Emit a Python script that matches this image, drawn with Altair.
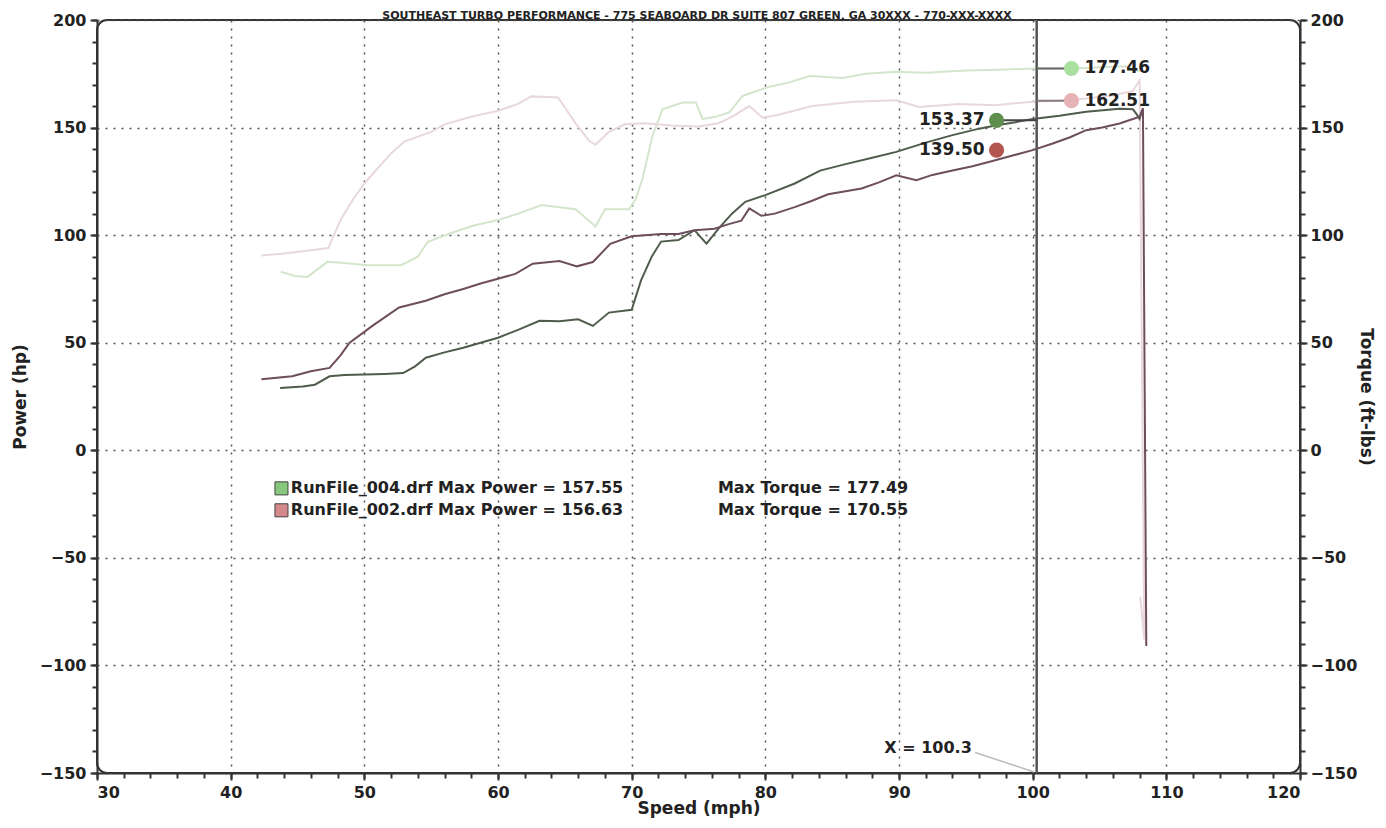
import altair as alt
import pandas as pd

FONT = "DejaVu Sans"

# ---------------- data ----------------
# Run 002 (red) power, hp
p002_x = [42.3, 44.6, 46.0, 47.4, 48.2, 48.9, 50.6, 52.6, 54.6, 56.0, 57.4, 58.7, 60.0, 61.3, 62.6,
          64.6, 65.9, 67.1, 68.4, 70.0, 72.2, 73.5, 74.7, 76.2, 77.2, 78.2, 78.8, 79.7, 80.7, 82.2,
          83.5, 84.7, 87.2, 88.5, 89.8, 91.3, 92.5, 94.0, 95.5, 97.2, 98.5, 100.0, 101.5, 102.8,
          104.0, 105.2, 106.5, 107.5, 108.0, 108.25, 108.5]
p002_y = [33.0, 34.4, 36.7, 38.3, 44.0, 50.0, 57.8, 66.4, 69.5, 72.5, 75.0, 77.5, 79.7, 82.0, 86.7,
          88.0, 85.5, 87.5, 96.0, 99.5, 100.5, 100.5, 102.3, 103.0, 105.0, 106.7, 112.4, 109.0, 110.0, 113.0,
          116.0, 119.0, 121.7, 124.5, 127.8, 125.5, 128.0, 130.0, 132.0, 134.8, 137.0, 139.5, 142.6, 145.5,
          148.8, 150.0, 151.9, 154.0, 155.0, 159.0, -91.0]

# Run 004 (green) power, hp
p004_x = [43.7, 45.4, 46.3, 47.4, 48.5, 50.0, 51.5, 52.9, 53.8, 54.6, 56.0, 57.4, 58.7, 60.0, 61.5,
          63.1, 64.6, 66.0, 67.1, 68.3, 70.0, 70.7, 71.5, 72.2, 73.5, 74.7, 75.6, 76.5, 77.5, 78.5,
          80.0, 82.2, 84.1, 86.0, 88.0, 89.8, 92.0, 94.0, 96.0, 97.2, 98.7, 100.0, 102.0, 104.0,
          106.5, 107.5, 107.8, 108.0, 108.2]
p004_y = [29.0, 29.7, 30.5, 34.4, 35.0, 35.2, 35.5, 35.9, 39.0, 43.0, 45.5, 47.7, 50.0, 52.3, 56.0,
          60.2, 60.0, 60.9, 57.8, 64.0, 65.3, 79.0, 90.0, 97.0, 97.7, 102.3, 96.0, 103.0, 110.0, 115.5,
          118.6, 124.0, 130.0, 133.0, 136.0, 138.7, 143.0, 146.5, 149.5, 151.0, 152.5, 154.0, 155.5, 157.3,
          158.8, 158.5, 156.0, 154.0, 158.0]

# Run 002 (red) torque, ft-lbs
t002_x = [42.3, 44.0, 46.0, 47.3, 48.3, 49.2, 50.0, 50.7, 52.0, 53.0, 55.0, 56.0, 58.0, 60.0, 61.5,
          62.5, 64.5, 65.8, 66.8, 67.3, 68.3, 69.5, 71.0, 73.0, 75.0, 76.5, 77.5, 78.8, 79.8, 81.0,
          83.5, 84.1, 86.6, 89.8, 91.5, 94.5, 97.2, 100.0, 102.0, 104.0, 106.0, 107.5, 108.0,
          108.35, 108.05]
t002_y = [90.5, 91.5, 93.0, 94.0, 108.0, 117.0, 124.0, 129.0, 138.0, 143.5, 148.0, 151.5, 155.0, 157.8, 161.0,
          164.5, 164.0, 152.0, 144.0, 142.0, 148.0, 151.5, 152.0, 151.0, 150.5, 152.0, 155.0, 160.0, 154.6, 156.0,
          160.0, 160.4, 162.0, 162.7, 159.6, 161.0, 160.4, 162.0, 162.5, 163.5, 165.0, 167.0, 172.0,
          -88.0, -68.0]

# Run 004 (green) torque, ft-lbs
t004_x = [43.75, 44.8, 45.75, 47.25, 48.5, 50.25, 52.75, 54.0, 54.75, 56.5, 58.25, 60.0, 61.5, 63.25,
          65.8, 67.3, 68.0, 69.8, 70.3, 70.8, 71.55, 72.3, 73.8, 74.8, 75.3, 76.3, 77.3, 78.3, 80.3,
          81.8, 83.3, 85.8, 87.5, 89.8, 92.0, 95.0, 98.0, 100.3, 103.0, 105.0, 107.0, 108.0]
t004_y = [83.0, 81.0, 80.6, 87.6, 87.0, 86.0, 86.0, 90.0, 96.9, 101.0, 104.6, 107.0, 110.0, 114.0,
          112.0, 104.0, 112.0, 112.0, 116.7, 126.0, 146.0, 158.5, 161.6, 161.6, 154.0, 155.0, 157.0, 164.7, 169.0,
          171.0, 174.0, 173.0, 175.0, 176.0, 175.5, 176.5, 177.0, 177.5, 177.5, 178.0, 178.5, 176.0]

series_names = ["T004", "T002", "P004", "P002"]
series_colors = ["#d3e6cb", "#e8d7df", "#4f5c4c", "#6e4d5c"]

# axis ticks
x_major = [30, 40, 50, 60, 70, 80, 90, 100, 110, 120]
x_minor = list(range(30, 121, 2))
y_major = [200, 150, 100, 50, 0, -50, -100, -150]
y_minor = list(range(-150, 201, 10))

cursor_x = 100.3
cursor_label = "X = 100.3"

# cursor readouts
mk_left_x = [97.3, 97.3]
mk_left_y = [153.37, 139.50]
mk_left_txt = ["153.37", "139.50"]
mk_left_col = ["#5f8f4e", "#b4554f"]
mk_right_x = [102.9, 102.9]
mk_right_y = [177.46, 162.51]
mk_right_txt = ["177.46", "162.51"]
mk_right_col = ["#a9df9f", "#e7b2b6"]

legend_y = [-17.7, -27.9]
legend_names = ["RunFile_004.drf Max Power = 157.55", "RunFile_002.drf Max Power = 156.63"]
legend_torque = ["Max Torque = 177.49", "Max Torque = 170.55"]
legend_cols = ["#86c97c", "#d48a8a"]

title_text = "SOUTHEAST TURBO PERFORMANCE - 775 SEABOARD DR SUITE 807 GREEN, GA 30XXX - 770-XXX-XXXX"

# ---------------- build ----------------
def series(name, xs, ys):
    return pd.DataFrame({"series": name, "i": list(range(len(xs))), "x": xs, "y": ys})

lines_df = pd.concat([
    series("T004", t004_x, t004_y),
    series("T002", t002_x, t002_y),
    series("P004", p004_x, p004_y),
    series("P002", p002_x, p002_y),
], ignore_index=True)

xs = alt.Scale(domain=[30, 120], nice=False, zero=False)
ys = alt.Scale(domain=[-150, 200], nice=False, zero=False)


def X(f="x"):
    return alt.X(f, type="quantitative", scale=xs, axis=None)


def Y(f="y"):
    return alt.Y(f, type="quantitative", scale=ys, axis=None)


axis_df = pd.DataFrame({"x": [30.0], "y": [0.0]})
carrier = alt.Chart(axis_df).mark_point(opacity=0)

lab = dict(labelFont=FONT, labelFontSize=16, labelFontWeight="bold", labelColor="#222")
ttl = dict(titleFont=FONT, titleFontSize=17, titleFontWeight="bold", titleColor="#222")
grid = dict(grid=True, gridColor="#555", gridDash=[2, 6], gridWidth=1.5)

major = carrier.encode(
    x=alt.X("x:Q", scale=xs, axis=alt.Axis(values=x_major, orient="bottom", tickSize=7, tickWidth=2,
                                           tickColor="#333", domainColor="#333", domainWidth=2,
                                           labelPadding=4, title="Speed (mph)", titlePadding=0,
                                           **lab, **ttl, **grid)),
    y=alt.Y("y:Q", scale=ys, axis=alt.Axis(values=y_major, orient="left", tickSize=7, tickWidth=2,
                                           tickColor="#333", domainColor="#333", domainWidth=2,
                                           labelPadding=4, title="Power (hp)", titlePadding=10,
                                           **lab, **ttl, **grid)),
)

minor = carrier.encode(
    x=alt.X("x:Q", scale=xs, axis=alt.Axis(values=x_minor, orient="bottom", tickSize=5, tickWidth=2,
                                           tickColor="#333", labels=False, domain=False, grid=False,
                                           title=None)),
    y=alt.Y("y:Q", scale=ys, axis=alt.Axis(values=y_minor, orient="left", tickSize=5, tickWidth=2,
                                           tickColor="#333", labels=False, domain=False, grid=False,
                                           title=None)),
)

right = carrier.encode(
    x=X("x"),
    y=alt.Y("y:Q", scale=ys, axis=alt.Axis(values=y_major, orient="right", tickSize=7, tickWidth=2,
                                           tickColor="#333", domainColor="#333", domainWidth=2,
                                           labelPadding=3, grid=False, title="Torque (ft-lbs)",
                                           titlePadding=0, **lab, **ttl)),
)

right_minor = carrier.encode(
    x=X("x"),
    y=alt.Y("y:Q", scale=ys, axis=alt.Axis(values=y_minor, orient="right", tickSize=5, tickWidth=2,
                                           tickColor="#333", labels=False, domain=False, grid=False,
                                           title=None)),
)

color = alt.Color("series:N", scale=alt.Scale(domain=series_names, range=series_colors), legend=None)

torque_lines = alt.Chart(lines_df[lines_df.series.str.startswith("T")]).mark_line(strokeWidth=2).encode(
    x=X(), y=Y(), color=color, detail="series:N", order=alt.Order("i:Q"))
power_lines = alt.Chart(lines_df[lines_df.series.str.startswith("P")]).mark_line(strokeWidth=2).encode(
    x=X(), y=Y(), color=color, detail="series:N", order=alt.Order("i:Q"))

cursor = alt.Chart(pd.DataFrame({"x": [cursor_x]})).mark_rule(color="#555", strokeWidth=2.5).encode(x=X())

cursor_lbl = alt.Chart(pd.DataFrame({"x": [88.9], "y": [-138.5], "t": [cursor_label]})).mark_text(
    font=FONT, fontSize=16, fontWeight="bold", color="#222", align="left", baseline="middle"
).encode(x=X(), y=Y(), text="t:N")

pointer = alt.Chart(pd.DataFrame({"x": [95.7], "x2": [100.1], "y": [-140.5], "y2": [-149.5]})).mark_rule(
    color="#bbb", strokeWidth=1.5).encode(x=X(), x2="x2", y=Y(), y2="y2")

conn_df = pd.DataFrame({
    "x": [mk_left_x[0], cursor_x, cursor_x],
    "x2": [cursor_x, mk_right_x[0], mk_right_x[1]],
    "y": [mk_left_y[0], mk_right_y[0], mk_right_y[1]],
    "c": ["#444", "#666", "#8a7a80"],
})
connectors = alt.Chart(conn_df).mark_rule(strokeWidth=2).encode(
    x=X(), x2="x2", y=Y(), color=alt.Color("c:N", scale=None))

left_df = pd.DataFrame({"x": mk_left_x, "y": mk_left_y, "t": mk_left_txt, "c": mk_left_col})
right_df = pd.DataFrame({"x": mk_right_x, "y": mk_right_y, "t": mk_right_txt, "c": mk_right_col})

left_dots = alt.Chart(left_df).mark_circle(size=230, opacity=1).encode(
    x=X(), y=Y(), color=alt.Color("c:N", scale=None))
right_dots = alt.Chart(right_df).mark_circle(size=230, opacity=1).encode(
    x=X(), y=Y(), color=alt.Color("c:N", scale=None))
left_txt = alt.Chart(left_df).mark_text(font=FONT, fontSize=17, fontWeight="bold", color="#222",
                                        align="right", baseline="middle", dx=-12).encode(
    x=X(), y=Y(), text="t:N")
right_txt = alt.Chart(right_df).mark_text(font=FONT, fontSize=17, fontWeight="bold", color="#222",
                                          align="left", baseline="middle", dx=13).encode(
    x=X(), y=Y(), text="t:N")

leg_df = pd.DataFrame({"xs": [43.8, 43.8], "xt": [44.5, 44.5], "xq": [76.45, 76.45], "y": legend_y,
                       "n": legend_names, "q": legend_torque, "c": legend_cols})
leg_sq = alt.Chart(leg_df).mark_square(size=170, opacity=1, stroke="#444", strokeWidth=1).encode(
    x=X("xs"), y=Y(), color=alt.Color("c:N", scale=None))
leg_t1 = alt.Chart(leg_df).mark_text(font=FONT, fontSize=16, fontWeight="bold", color="#222",
                                     align="left", baseline="middle").encode(x=X("xt"), y=Y(), text="n:N")
leg_t2 = alt.Chart(leg_df).mark_text(font=FONT, fontSize=16, fontWeight="bold", color="#222",
                                     align="left", baseline="middle").encode(x=X("xq"), y=Y(), text="q:N")

title = alt.Chart(pd.DataFrame({"t": [title_text]})).mark_text(
    font=FONT, fontSize=11, fontWeight="bold", color="#222", align="center", baseline="alphabetic"
).encode(x=alt.value(600), y=alt.value(-1.5), text="t:N")

chart = alt.layer(
    major, minor, right, right_minor,
    torque_lines, power_lines, cursor, pointer, connectors,
    left_dots, right_dots, left_txt, right_txt, cursor_lbl,
    leg_sq, leg_t1, leg_t2, title,
).resolve_axis(x="independent", y="independent").properties(
    width=1203, height=753,
    padding={"left": 89, "top": 12, "right": 78, "bottom": 47},
    autosize=alt.AutoSizeParams(type="none"),
    background="white",
).configure_view(stroke="#333", strokeWidth=2, cornerRadius=10)

chart.save("out.html", embed_options={"renderer": "svg", "actions": False})
